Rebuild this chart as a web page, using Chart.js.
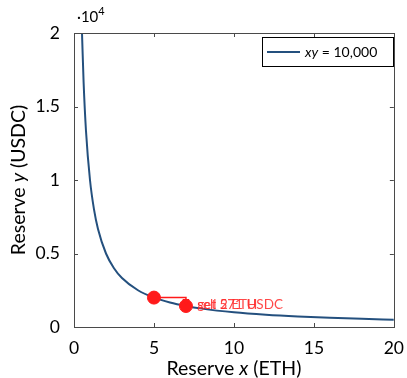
<!DOCTYPE html>
<html>
<head>
<meta charset="utf-8">
<script src="https://cdn.jsdelivr.net/npm/chart.js@4"></script>
<style>
  html, body { margin: 0; padding: 0; background: #fff; }
  #wrap { width: 407px; height: 378px; }
</style>
</head>
<body>
<div id="wrap"><canvas id="c" width="407" height="378"></canvas></div>
<script>
// curve xy = 10,000
var curveX = [0.5, 0.6, 0.75, 1, 1.25, 1.5, 2, 2.5, 3, 4, 5, 6, 7, 8, 10, 12, 14, 16, 18, 20];
var curveY = [20000, 16667, 13333, 10000, 8000, 6667, 5000, 4000, 3333, 2500, 2000, 1667, 1429, 1250, 1000, 833, 714, 625, 556, 500];
// trade points
var tradeX = [5, 7];
var tradeY = [2000, 1429];
// arrow path (sell 2 ETH, then get 571 USDC)
var arrowX = [5, 7, 7];
var arrowY = [2000, 2000, 1429];
var notes = ['sell 2 ETH', 'get 571 USDC'];
var noteAt = [7.7, 1540];
var xTicks = [0, 5, 10, 15, 20];
var yTicks = [0, 5000, 10000, 15000, 20000];

var FONT = 'Lato, "DejaVu Sans", sans-serif';
var BLUE = '#24507e';
var RED = '#ff1a1a';

function pts(xs, ys) {
    return xs.map(function(x, i) { return { x: x, y: ys[i] }; });
}

// writes pieces of text in a row, italic where asked, centred on cx
function mixedText(ctx, parts, size, cx, y) {
    var total = 0;
    parts.forEach(function(p) {
        ctx.font = (p[1] ? 'italic ' : '') + size + 'px ' + FONT;
        total += ctx.measureText(p[0]).width;
    });
    var x = cx - total / 2;
    parts.forEach(function(p) {
        ctx.font = (p[1] ? 'italic ' : '') + size + 'px ' + FONT;
        ctx.fillText(p[0], x, y);
        x += ctx.measureText(p[0]).width;
    });
}

// frame, inward ticks, axis titles, legend, notes
var decor = {
    id: 'decor',
    afterDatasetsDraw: function(chart) {
        var ctx = chart.ctx, a = chart.chartArea;
        var xs = chart.scales.x, ys = chart.scales.y;
        ctx.save();
        ctx.strokeStyle = '#4a4a4a';
        ctx.lineWidth = 1;
        ctx.beginPath();
        xTicks.forEach(function(t) {
            var px = Math.round(xs.getPixelForValue(t)) + 0.5;
            ctx.moveTo(px, a.bottom); ctx.lineTo(px, a.bottom - 4);
            ctx.moveTo(px, a.top); ctx.lineTo(px, a.top + 4);
        });
        yTicks.forEach(function(t) {
            var py = Math.round(ys.getPixelForValue(t)) + 0.5;
            ctx.moveTo(a.left, py); ctx.lineTo(a.left + 4, py);
            ctx.moveTo(a.right, py); ctx.lineTo(a.right - 4, py);
        });
        ctx.stroke();
        ctx.strokeRect(Math.round(a.left) + 0.5, Math.round(a.top) + 0.5,
            Math.round(a.right - a.left), Math.round(a.bottom - a.top));

        // arrowhead at the end of the trade path
        var ex = xs.getPixelForValue(arrowX[2]), ey = ys.getPixelForValue(arrowY[2]);
        ctx.fillStyle = RED;
        ctx.beginPath();
        ctx.moveTo(ex, ey);
        ctx.lineTo(ex - 3.5, ey - 7);
        ctx.lineTo(ex + 3.5, ey - 7);
        ctx.closePath();
        ctx.fill();

        // notes
        ctx.font = '13.5px ' + FONT;
        ctx.textBaseline = 'middle';
        ctx.textAlign = 'left';
        ctx.fillStyle = 'rgba(255,40,40,0.85)';
        var nx = xs.getPixelForValue(noteAt[0]), ny = ys.getPixelForValue(noteAt[1]);
        notes.forEach(function(n) { ctx.fillText(n, nx, ny); });

        // legend
        ctx.fillStyle = '#fff';
        ctx.fillRect(262, 37, 131, 29);
        ctx.strokeStyle = '#000';
        ctx.strokeRect(262.5, 37.5, 131, 29);
        ctx.strokeStyle = BLUE;
        ctx.lineWidth = 2;
        ctx.beginPath();
        ctx.moveTo(267, 52); ctx.lineTo(300, 52);
        ctx.stroke();
        ctx.fillStyle = '#000';
        ctx.font = 'italic 14px ' + FONT;
        ctx.fillText('xy', 305, 52);
        var w = ctx.measureText('xy').width;
        ctx.font = '14px ' + FONT;
        ctx.fillText(' = 10,000', 305 + w, 52);

        // exponent
        ctx.font = '15px ' + FONT;
        ctx.textBaseline = 'alphabetic';
        ctx.fillText('\u00b710', 77, 22);
        var w2 = ctx.measureText('\u00b710').width;
        ctx.font = '11px ' + FONT;
        ctx.fillText('4', 77 + w2, 15);

        // axis titles
        mixedText(ctx, [['Reserve ', false], ['x', true], [' (ETH)', false]], 19.5,
            (a.left + a.right) / 2, 375);
        ctx.translate(25, (a.top + a.bottom) / 2);
        ctx.rotate(-Math.PI / 2);
        mixedText(ctx, [['Reserve ', false], ['y', true], [' (USDC)', false]], 19.5, 0, 0);
        ctx.restore();
    }
};

new Chart(document.getElementById('c').getContext('2d'), {
    type: 'scatter',
    data: {
        datasets: [{
            data: pts(curveX, curveY),
            showLine: true,
            borderColor: BLUE,
            borderWidth: 2,
            pointRadius: 0,
            cubicInterpolationMode: 'monotone',
            order: 3
        }, {
            data: pts(arrowX, arrowY),
            showLine: true,
            borderColor: RED,
            borderWidth: 1.5,
            pointRadius: 0,
            tension: 0,
            order: 2
        }, {
            data: pts(tradeX, tradeY),
            showLine: false,
            backgroundColor: RED,
            borderColor: RED,
            pointRadius: 6.5,
            order: 1
        }]
    },
    options: {
        responsive: false,
        animation: false,
        layout: { padding: { top: 33, right: 10, left: 0, bottom: 0 } },
        plugins: { legend: { display: false }, tooltip: { enabled: false } },
        scales: {
            x: {
                type: 'linear',
                min: 0, max: 20,
                afterBuildTicks: function(s) { s.ticks = xTicks.map(function(v) { return { value: v }; }); },
                afterFit: function(s) { s.height = 51; },
                grid: { display: false },
                border: { display: false },
                ticks: { color: '#000', font: { family: FONT, size: 17.5 }, padding: 3 }
            },
            y: {
                type: 'linear',
                min: 0, max: 20000,
                afterBuildTicks: function(s) { s.ticks = yTicks.map(function(v) { return { value: v }; }); },
                afterFit: function(s) { s.width = 74; },
                grid: { display: false },
                border: { display: false },
                ticks: {
                    color: '#000', font: { family: FONT, size: 17.5 }, padding: 6,
                    callback: function(v) { return String(v / 10000); }
                }
            }
        }
    },
    plugins: [decor]
});
</script>
</body>
</html>
